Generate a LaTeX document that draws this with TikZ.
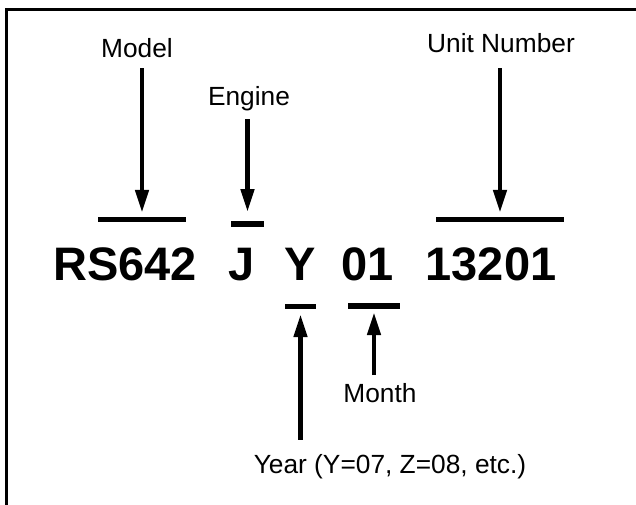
\documentclass[tikz,border=0pt]{standalone}
\usepackage{fontspec}
\setmainfont{Liberation Sans}
\usetikzlibrary{arrows.meta, positioning}

\begin{document}
\begin{tikzpicture}[x=1pt, y=-1pt,
        lbl/.style={anchor=base, inner sep=0pt, text height=18.8pt, text depth=5.5pt,
                    font=\fontsize{26.3}{30}\selectfont},
        code/.style={anchor=base, inner sep=0pt, font=\bfseries\fontsize{47}{52}\selectfont},
        bar/.style={rectangle, fill=black, inner sep=0pt, minimum height=5.5pt},
        arr/.style={-{Triangle[length=23pt,width=13pt]}, line width=4.5pt}]
      \useasboundingbox (0,0) rectangle (636,504);
      % frame, only top and left edge show
      \draw[line width=3pt] (6.5,510) |- (640,9);

      % serial number
      \node[code] (rs)   at (125,280) {RS642};
      \node[code] (j)    at (241.5,280) {J};
      \node[code] (y)    at (300,280) {Y};
      \node[code] (mm)   at (368,280) {01};
      \node[code] (unit) at (491,280) {13201};

      % bars over / under the parts
      \node[bar, minimum width=88pt]  (modelbar)  at (142,219.5) {};
      \node[bar, minimum width=33pt]  (enginebar) at (247.5,224) {};
      \node[bar, minimum width=128pt] (unitbar)   at (500,219.5) {};
      \node[bar, minimum width=31pt]  (yearbar)   at (300.5,306.5) {};
      \node[bar, minimum width=52pt]  (monthbar)  at (374,306) {};

      % labels
      \node[lbl] (model)  at (137,57) {Model};
      \node[lbl] (engine) at (249,105) {Engine};
      \node[lbl] (unitno) at (501,52) {Unit Number};
      \node[lbl] (month)  at (380,402) {Month};
      \node[lbl] (year)   at (390,473.7) {Year (Y=07, Z=08, etc.)};

      \draw[arr, shorten <=5.5pt, shorten >=3.75pt] (modelbar.north |- model.south) -- (modelbar.north);
      \draw[arr, shorten <=8.5pt, shorten >=9pt] (enginebar.north |- engine.south) -- (enginebar.north);
      \draw[arr, shorten <=10.5pt, shorten >=3.75pt] (unitbar.north |- unitno.south) -- (unitbar.north);
      \draw[arr, shorten <=15pt, shorten >=4.75pt] (yearbar.south |- year.north) -- (yearbar.south);
      \draw[arr, shorten <=8pt, shorten >=3.25pt] (monthbar.south |- month.north) -- (monthbar.south);
    \end{tikzpicture}
\end{document}
